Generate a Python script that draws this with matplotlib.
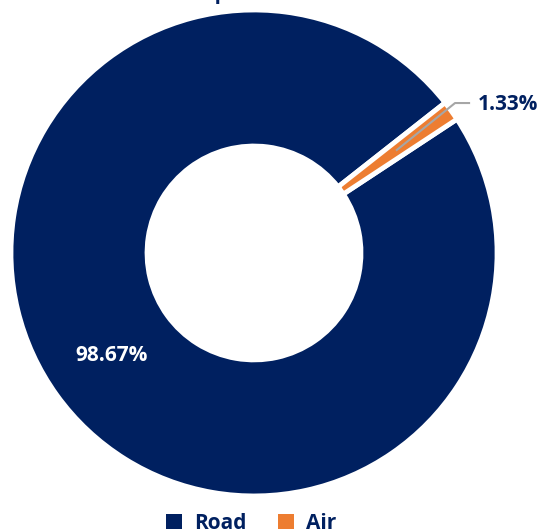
import numpy as np
import matplotlib.pyplot as plt
from matplotlib.patches import Patch

modes = ['Road', 'Air']
shares = [98.67, 1.33]
colors = ['#002060', '#ED7D31']
title = 'Shipment Mode'

plt.rcParams['font.family'] = ['Open Sans', 'DejaVu Sans']

fig = plt.figure(figsize=(5.44, 5.30), dpi=100)
ax = fig.add_axes([0, 0, 1, 1])

wedges, _ = ax.pie(shares, colors=colors, startangle=33.4, counterclock=False,
                   radius=1.0, wedgeprops=dict(width=0.56, edgecolor='white', linewidth=3.5))

ax.set_xlim(-1.045, 1.193)
ax.set_ylim(-1.140, 1.041)
ax.set_aspect('auto')
ax.axis('off')

navy = '#002060'

# big slice label sits inside the ring
w = wedges[0]
mid = np.deg2rad((w.theta1 + w.theta2) / 2)
ax.text(0.72 * np.cos(mid), 0.72 * np.sin(mid), f'{shares[0]:.2f}%',
        ha='center', va='center', color='white', fontsize=15, fontweight='bold')

# small slice gets a leader line
w = wedges[1]
mid = np.deg2rad((w.theta1 + w.theta2) / 2)
x0, y0 = 0.72 * np.cos(mid), 0.72 * np.sin(mid)
ax.plot([x0, 0.827, 0.889], [y0, 0.617, 0.617], color='#A6A6A6', lw=1.5,
        solid_capstyle='butt')
ax.text(0.92, 0.61, f'{shares[1]:.2f}%', ha='left', va='center',
        color=navy, fontsize=15, fontweight='bold')

ax.text(0.045, 1.045, title, ha='center', va='baseline', color=navy,
        fontsize=15, fontweight='bold', clip_on=False)

handles = [Patch(facecolor=c, edgecolor='none') for c in colors]
leg = fig.legend(handles, modes, loc='center', bbox_to_anchor=(0.462, 0.013), ncol=2,
                 frameon=False, handlelength=0.75, handleheight=0.75, handletextpad=0.6,
                 columnspacing=1.5, prop=dict(size=15, weight='bold'))
for t in leg.get_texts():
    t.set_color(navy)

fig.savefig('out.png', dpi=100)
